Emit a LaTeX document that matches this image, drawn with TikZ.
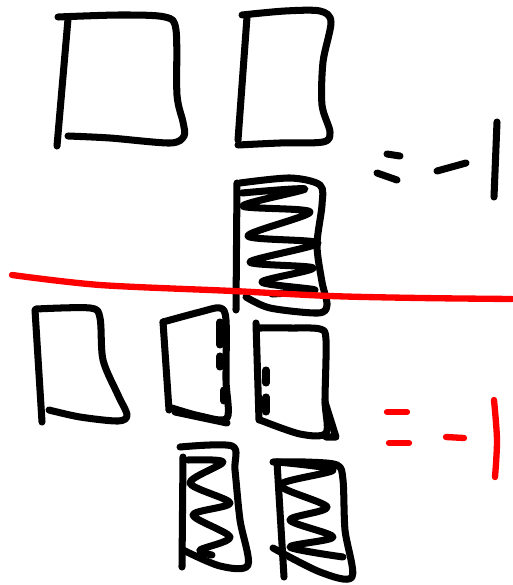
\documentclass[tikz,border=0pt]{standalone}
\usepackage{tikz}

\begin{document}
\begin{tikzpicture}[x=0.02cm,y=-0.02cm,
    ink/.style={black, line width=4pt, line cap=round, line join=round},
    redink/.style={red, line width=3.6pt, line cap=round, line join=round}]
            \useasboundingbox (0,0) rectangle (513,585);

            % Top row: two plain boxes
            \draw[ink] plot[smooth] coordinates {(58,17) (120,15) (165,17) (176,30) (177,95) (183,122) (184,136) (170,143) (110,138) (68,136)};
            \draw[ink] (68,19) -- (57,146);

            \draw[ink] plot[smooth] coordinates {(242,15) (285,11) (320,11) (331,22) (323,62) (322,105) (330,132) (323,142) (280,143) (238,145)};
            \draw[ink] (247,17) -- (238,140);

            % Scribbled box under the right one
            \draw[ink] plot[smooth] coordinates {(240,183) (290,178) (320,185) (322,205) (317,245) (322,282) (327,305) (318,313) (270,308) (246,297)};
            \draw[ink] (237,183) -- (236,310);
            \draw[ink] plot[smooth] coordinates {(242,193) (305,189) (243,206) (310,212) (248,236) (318,243) (250,262) (313,268) (262,282) (315,290) (272,294)};

            % Equation, top right
            \draw[ink] (387,154) -- (400,156);
            \draw[ink] (377,173) -- (397,180);
            \draw[ink] (437,171) -- (466,163);
            \draw[ink] (497,122) -- (494,197);

            % Red separating line
            \draw[redink] plot[smooth] coordinates {(12,275) (100,285) (233,291) (330,296) (420,298) (512,299)};

            % Bottom row: three plain boxes
            \draw[ink] plot[smooth] coordinates {(36,309) (90,308) (100,318) (103,360) (118,395) (127,415) (118,421) (80,417) (49,410)};
            \draw[ink] (35,310) -- (42,422);

            \draw[ink] plot[smooth] coordinates {(163,322) (200,312) (220,308) (226,320) (226,380) (227,418) (200,416) (172,408)};
            \draw[ink] (163,322) -- (169,410);
            \draw[ink] (175,412) -- (227,423);
            \draw[ink] (220,322) -- (220,345);
            \draw[ink] (220,356) -- (220,367);
            \draw[ink] (224,390) -- (224,401);

            \draw[ink] plot[smooth] coordinates {(258,328) (290,328) (320,329) (326,340) (325,400) (326,433) (300,434) (260,420)};
            \draw[ink] (256,323) -- (259,420);
            \draw[ink] (325,402) -- (336,437) -- (326,437);
            \draw[ink] (266,370) -- (266,383);
            \draw[ink] (266,397) -- (266,412);

            % Bottom row: two scribbled boxes
            \draw[ink] plot[smooth] coordinates {(180,447) (232,446) (235,470) (240,520) (248,565) (220,566) (183,550)};
            \draw[ink] (183,457) -- (182,567);
            \draw[ink] plot[smooth] coordinates {(188,460) (223,462) (190,483) (230,503) (193,515) (230,537) (200,550) (212,555)};

            \draw[ink] plot[smooth] coordinates {(273,462) (305,462) (337,465) (343,480) (345,530) (352,577) (320,572) (273,548)};
            \draw[ink] (277,462) -- (284,577);
            \draw[ink] plot[smooth] coordinates {(277,462) (333,470) (280,485) (327,507) (290,520) (333,537) (290,547) (343,557)};

            % Equation in red, bottom right
            \draw[redink] (387,412) -- (407,412);
            \draw[redink] (389,443) -- (409,443);
            \draw[redink] (446,437) -- (464,438);
            \draw[redink] plot[smooth] coordinates {(494,400) (497,440) (495,477)};
        \end{tikzpicture}
\end{document}
